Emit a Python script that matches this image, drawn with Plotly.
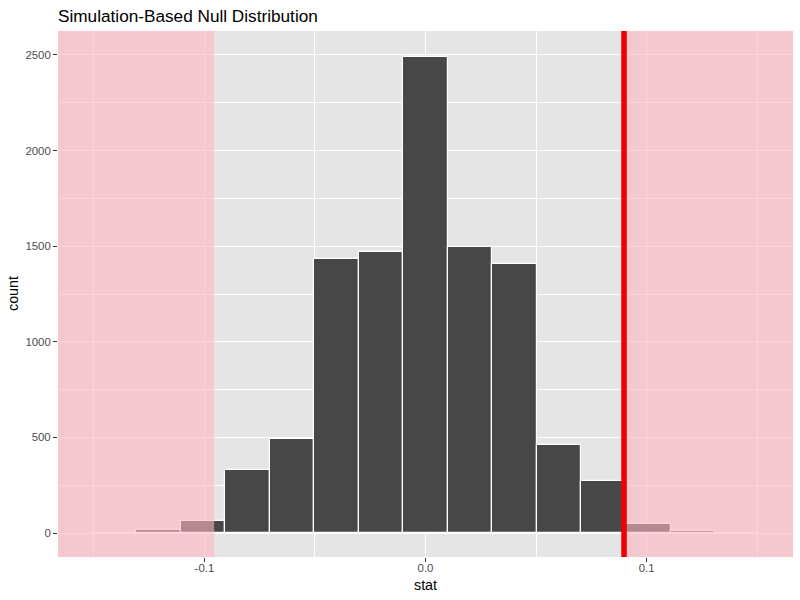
import plotly.graph_objects as go

# ---- data ----
bin_width = 0.02015
bin_index = [-7, -6, -5, -4, -3, -2, -1, 0, 1, 2, 3, 4, 5, 6, 7]
counts = [2, 17, 64, 329, 490, 1435, 1472, 2491, 1498, 1409, 459, 271, 50, 12, 1]
obs_stat = 0.0898
left_shade_edge = -0.0956
x_tick_vals = [-0.1, 0.0, 0.1]
x_tick_text = ["-0.1", "0.0", "0.1"]
x_minor_vals = [-0.15, -0.05, 0.05, 0.15]
y_tick_vals = [0, 500, 1000, 1500, 2000, 2500]
y_tick_text = ["0", "500", "1000", "1500", "2000", "2500"]
y_minor_vals = [250, 750, 1250, 1750, 2250]

centers = [k * bin_width for k in bin_index]
lo = centers[0] - bin_width / 2
hi = centers[-1] + bin_width / 2
pad = 0.05 * (hi - lo)
x_range = [lo - pad, hi + pad]
y_range = [-0.05 * max(y_tick_vals), max(y_tick_vals) * 1.05]

FONT = "Liberation Sans, Arial, Helvetica, sans-serif"
W, H = 800, 600
ML, MR, MT, MB = 58, 7, 31, 43

fig = go.Figure()
fig.add_trace(go.Bar(
    x=centers, y=counts, width=[bin_width] * len(centers),
    marker=dict(color="#474747", line=dict(color="white", width=1.2)),
    showlegend=False, hoverinfo="x+y",
))

# shaded p-value regions
shade = "rgba(255,180,193,0.6)"
fig.add_shape(type="rect", xref="x", yref="paper", x0=x_range[0], x1=left_shade_edge,
              y0=0, y1=1, fillcolor=shade, line=dict(width=0), layer="above")
fig.add_shape(type="rect", xref="x", yref="paper", x0=obs_stat, x1=x_range[1],
              y0=0, y1=1, fillcolor=shade, line=dict(width=0), layer="above")
# observed statistic
fig.add_shape(type="line", xref="x", yref="paper", x0=obs_stat, x1=obs_stat,
              y0=0, y1=1, line=dict(color="#EE0000", width=5.5), layer="above")

plot_h = H - MT - MB
plot_w = W - ML - MR
# axis titles as annotations (placed in pixel offsets from the panel)
fig.add_annotation(text="stat", xref="paper", yref="paper", x=0.5, y=-(585 - (H - MB)) / plot_h,
                   showarrow=False, xanchor="center", yanchor="middle",
                   font=dict(size=14.3, color="black", family=FONT))
fig.add_annotation(text="count", xref="paper", yref="paper", x=-(ML - 13) / plot_w, y=0.5,
                   showarrow=False, xanchor="center", yanchor="middle", textangle=-90,
                   font=dict(size=14.3, color="black", family=FONT))

fig.update_layout(
    template="none",
    width=W, height=H,
    margin=dict(l=ML, r=MR, t=MT, b=MB),
    paper_bgcolor="white", plot_bgcolor="#E5E5E5",
    bargap=0,
    font=dict(family=FONT, color="black"),
    title=dict(text="Simulation-Based Null Distribution", font=dict(size=17.2, color="black", family=FONT),
               x=0, xref="paper", xanchor="left", y=1 - 16 / H, yref="container", yanchor="middle"),
    xaxis=dict(
        range=x_range, tickmode="array", tickvals=x_tick_vals, ticktext=x_tick_text,
        showgrid=True, gridcolor="white", gridwidth=1.2, zeroline=False,
        ticks="outside", ticklen=4, tickwidth=1.1, tickcolor="#333333",
        tickfont=dict(size=11.4, color="#4D4D4D", family=FONT),
        ticklabelstandoff=-4,
        minor=dict(tickmode="array", tickvals=x_minor_vals, showgrid=True, gridcolor="white",
                   gridwidth=0.6, ticks=""),
        showline=False, automargin=False,
    ),
    yaxis=dict(
        range=y_range, tickmode="array", tickvals=y_tick_vals, ticktext=y_tick_text,
        showgrid=True, gridcolor="white", gridwidth=1.2, zeroline=False,
        ticks="outside", ticklen=4, tickwidth=1.1, tickcolor="#333333",
        tickfont=dict(size=11.4, color="#4D4D4D", family=FONT),
        minor=dict(tickmode="array", tickvals=y_minor_vals, showgrid=True, gridcolor="white",
                   gridwidth=0.6, ticks=""),
        showline=False, automargin=False,
    ),
)

fig.write_html(
    "out.html",
    config={"displayModeBar": False},
    post_script="document.body.style.margin='0';document.body.style.overflow='hidden';",
)
